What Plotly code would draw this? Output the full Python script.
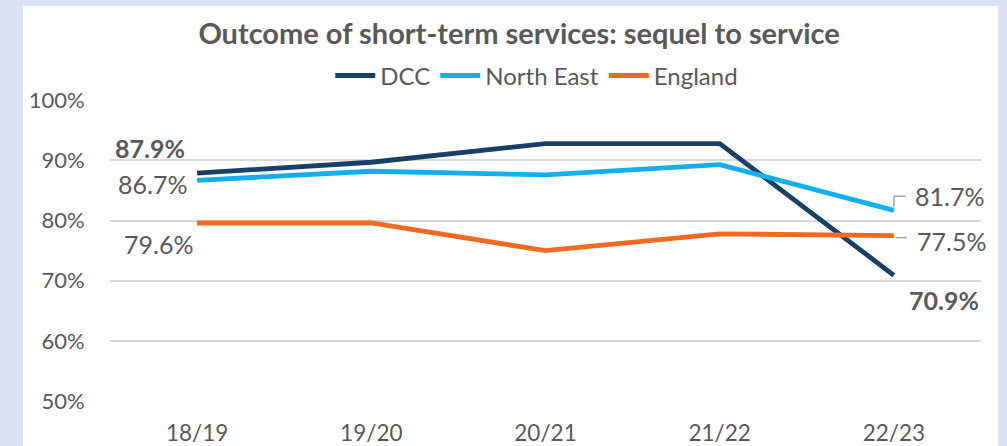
import plotly.graph_objects as go

years = ["18/19", "19/20", "20/21", "21/22", "22/23"]
dcc = [87.9, 89.7, 92.8, 92.8, 70.9]
north_east = [86.7, 88.2, 87.6, 89.3, 81.7]
england = [79.6, 79.6, 75.0, 77.8, 77.5]

series_names = ["DCC", "North East", "England"]
series_colors = ["#173f68", "#12aff0", "#f26a22"]
y_ticks = [50, 60, 70, 80, 90, 100]
y_tick_text = ["50%", "60%", "70%", "80%", "90%", "100%"]

FONT = "Lato"
GREY = "#595959"

fig = go.Figure()
for name, vals, col in zip(series_names, [dcc, north_east, england], series_colors):
    fig.add_trace(go.Scatter(
        x=years, y=vals, name=name, mode="lines",
        line=dict(color=col, width=4.8),
        hoverinfo="skip",
    ))

# white card behind the chart
fig.add_shape(type="rect", xref="paper", yref="paper",
              x0=-0.0999, x1=1.0195, y0=-0.16, y1=1.312,
              fillcolor="white", line=dict(width=0), layer="below")

# data labels (first and last point of each series)
label_specs = [
    # series values, index, xshift, yshift, bold
    (dcc, 0, -47, 25, True),
    (north_east, 0, -45, -4, False),
    (england, 0, -39, -21, False),
    (north_east, 4, 56, 14, False),
    (england, 4, 58, -5, False),
    (dcc, 4, 50, -25, True),
]
for vals, i, xs, ys, bold in label_specs:
    txt = f"{vals[i]:.1f}%"
    if bold:
        txt = f"<b>{txt}</b>"
    fig.add_annotation(x=years[i], y=vals[i], xref="x", yref="y",
                       text=txt, showarrow=False, xshift=xs, yshift=ys,
                       font=dict(family=FONT, size=25, color=GREY))

# leader lines anchored at the last points
fig.add_shape(type="path", xref="x", yref="y",
              xsizemode="pixel", ysizemode="pixel",
              xanchor=years[4], yanchor=north_east[4],
              path="M 0 3 L 0 14 L 12 14",
              line=dict(color="#a6a6a6", width=1.5))
fig.add_shape(type="path", xref="x", yref="y",
              xsizemode="pixel", ysizemode="pixel",
              xanchor=years[4], yanchor=england[4],
              path="M 2 -2 L 13 -2",
              line=dict(color="#a6a6a6", width=1.5))

fig.update_layout(
    width=1007, height=446,
    margin=dict(l=110, r=26, t=100, b=45, autoexpand=False),
    paper_bgcolor="#dae3f3",
    plot_bgcolor="white",
    title=dict(text="<b>Outcome of short-term services: sequel to service</b>",
               x=0.5155, xanchor="center", y=0.925, yanchor="middle",
               font=dict(family=FONT, size=29, color=GREY)),
    legend=dict(orientation="h", x=0.49, xanchor="center", y=1.08, yanchor="middle",
                font=dict(family=FONT, size=24, color=GREY),
                bgcolor="rgba(0,0,0,0)", itemwidth=40),
    showlegend=True,
)
fig.update_xaxes(
    type="category", range=[-0.5, 4.5], showgrid=False,
    showline=False, zeroline=False, automargin=False,
    ticks="outside", ticklen=12, tickcolor="rgba(0,0,0,0)",
    tickfont=dict(family=FONT, size=22.5, color=GREY),
)
fig.update_yaxes(
    range=[50, 100.05], tickvals=y_ticks, ticktext=y_tick_text,
    showgrid=True, gridcolor="#d9d9d9", gridwidth=1.5,
    zeroline=False, showline=False, automargin=False,
    ticks="outside", ticklen=20, tickcolor="rgba(0,0,0,0)",
    tickfont=dict(family=FONT, size=22, color=GREY),
)

fig.write_html(
    "out.html",
    config={"displayModeBar": False},
    post_script="document.body.style.margin='0';document.body.style.overflow='hidden';",
)
